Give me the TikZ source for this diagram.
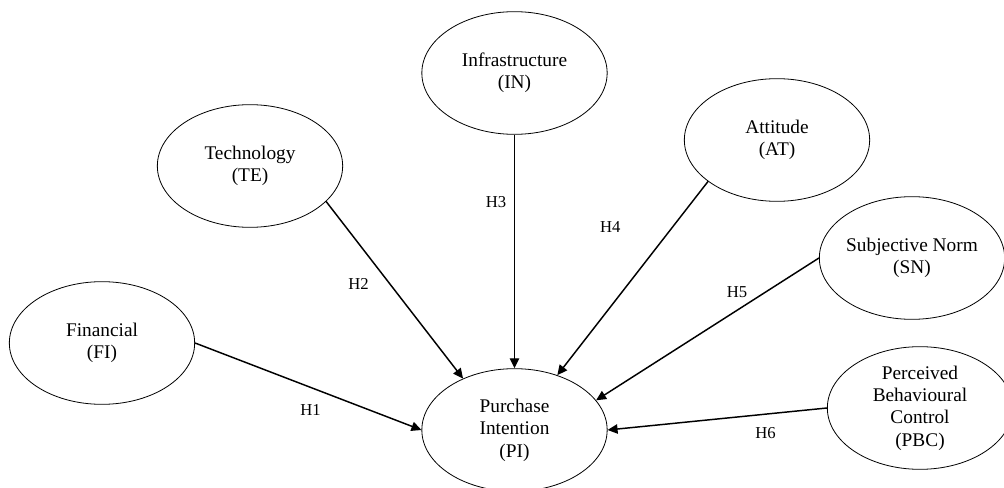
\documentclass[tikz,border=0pt]{standalone}
\usepackage{fontspec}
\setmainfont{Liberation Serif}
\usetikzlibrary{shapes.geometric, arrows.meta}

\begin{document}
\begin{tikzpicture}[x=0.75pt, y=-0.75pt, >={Triangle[length=7.5pt, width=7pt]},
    var/.style={ellipse, draw, line width=0.6pt, minimum width=139pt, minimum height=92pt,
        inner xsep=-9pt, inner ysep=-2pt, align=center, font=\fontsize{14.5}{16.8}\selectfont},
    hyp/.style={font=\fontsize{12.5}{14}\selectfont}]

    \useasboundingbox (0,0) rectangle (1004,488);

    % Définitions des variables
    \node[var] (FI) at (102,343) {Financial\\(FI)};
    \node[var] (TE) at (250,166) {Technology\\(TE)};
    \node[var] (IN) at (514.5,73) {Infrastructure\\(IN)};
    \node[var] (AT) at (777,140) {Attitude\\(AT)};
    \node[var] (SN) at (912,258) {Subjective Norm\\(SN)};
    \node[var] (PBC) at (920,408) {Perceived\\Behavioural\\Control\\(PBC)};
    \node[var] (PI) at (514.5,430) {Purchase\\Intention\\(PI)};

    % Définition des hypothèses
    \path[->, line width=1.1pt]
    (FI.east) edge node[hyp, pos=0.51, yshift=-17pt] (h1) {H1} (PI.west)
    (TE.-25) edge node[hyp, pos=0.38, xshift=-14.7pt, yshift=-11.3pt] (h2) {H2} (PI.135)
    (IN.south) edge node[hyp, pos=0.29, xshift=-13.9pt] (h3) {H3} (PI.north)
    (AT.-149) edge node[hyp, pos=0.39, xshift=-29.2pt, yshift=22.7pt] (h4) {H4} (PI.52)
    (SN.west) edge node[hyp, pos=0.33, xshift=-6.2pt, yshift=9.8pt] (h5) {H5} (PI.20)
    (PBC.west) edge node[hyp, pos=0.28, yshift=-14.1pt] (h6) {H6} (PI.east);

\end{tikzpicture}
\end{document}
